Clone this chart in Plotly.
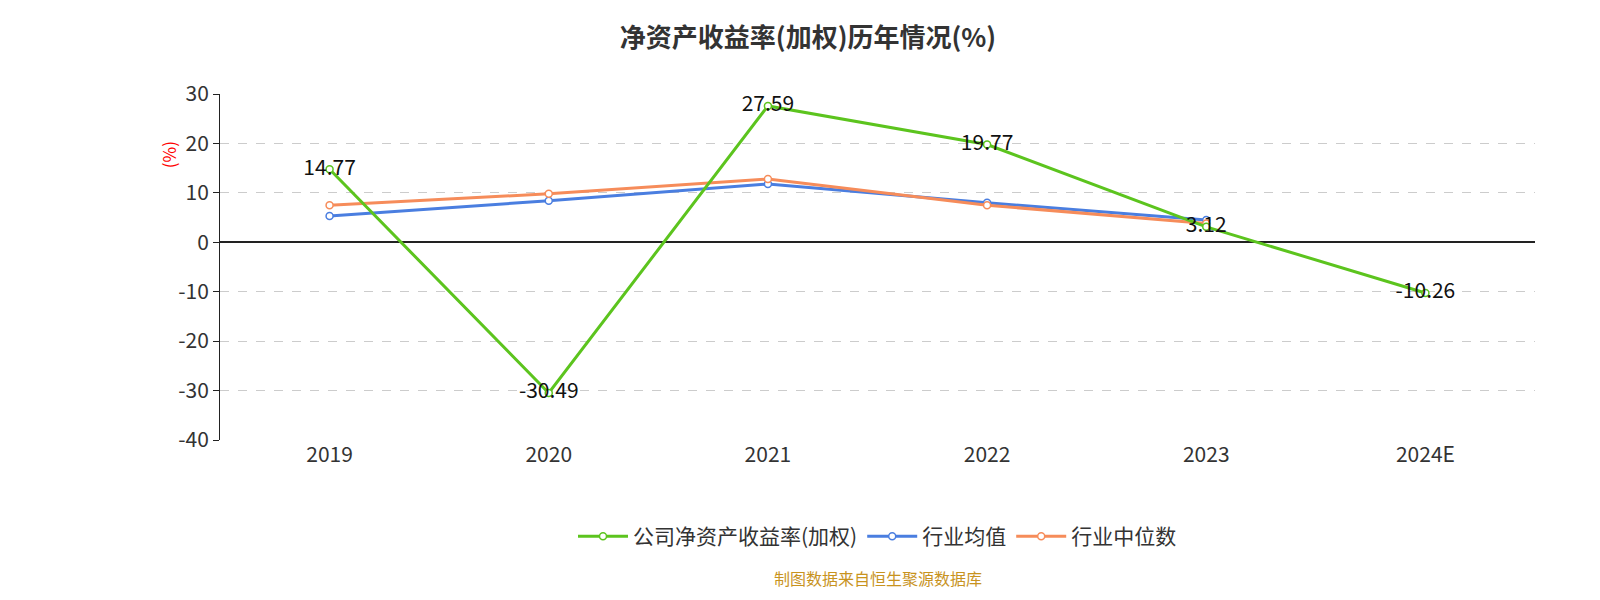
import plotly.graph_objs as go

years = ["2019", "2020", "2021", "2022", "2023", "2024E"]
company = [14.77, -30.49, 27.59, 19.77, 3.12, -10.26]
ind_mean = [5.3, 8.4, 11.8, 8.0, 4.5]
ind_median = [7.5, 9.8, 12.8, 7.5, 3.8]
ticks = [30, 20, 10, 0, -10, -20, -30, -40]

fig = go.Figure()

fig.add_trace(go.Scatter(x=years[:5], y=ind_mean, name="行业均值", mode="lines+markers",
                         legendrank=2,
                         line=dict(color="#4a7ee0", width=3),
                         marker=dict(size=7, color="white", line=dict(color="#4a7ee0", width=1.5))))
fig.add_trace(go.Scatter(x=years[:5], y=ind_median, name="行业中位数", mode="lines+markers",
                         legendrank=3,
                         line=dict(color="#f68c5a", width=3),
                         marker=dict(size=7, color="white", line=dict(color="#f68c5a", width=1.5))))
fig.add_trace(go.Scatter(x=years, y=company, name="公司净资产收益率(加权)", mode="lines+markers+text",
                         legendrank=1,
                         text=[f"{v:.2f}" for v in company], textposition="middle center",
                         textfont=dict(size=21, color="#111"),
                         line=dict(color="#5cc41e", width=3),
                         marker=dict(size=7, color="white", line=dict(color="#5cc41e", width=1.5))))

fig.update_layout(
    width=1600, height=600,
    paper_bgcolor="white", plot_bgcolor="white",
    font=dict(family="Noto Sans CJK SC", color="#333"),
    title=dict(text="<b>净资产收益率(加权)历年情况(%)</b>", x=0.5, y=0.965,
               font=dict(size=26, color="#333")),
    margin=dict(l=212, r=73, t=86, b=168),
    legend=dict(orientation="h", x=0.5, xanchor="center", y=-0.22, yanchor="top",
                font=dict(size=21), itemwidth=50),
    xaxis=dict(type="category", tickfont=dict(size=21), showgrid=False,
               showline=False, ticks="", range=[-0.5, 5.5]),
    yaxis=dict(range=[-40, 30], tickvals=ticks, ticktext=[str(t) for t in ticks],
               tickfont=dict(size=21),
               showgrid=True, gridcolor="#ccc", griddash="dash",
               zeroline=True, zerolinecolor="#222", zerolinewidth=1.5,
               showline=True, linecolor="#222", ticks="outside", ticklen=6, tickcolor="#222"),
    annotations=[
        dict(text="(%)", xref="paper", yref="paper", x=-0.05, y=0.87, showarrow=False,
             textangle=-90, font=dict(size=17, color="red")),
        dict(text="制图数据来自恒生聚源数据库", xref="paper", yref="paper", x=0.5, y=-0.44,
             showarrow=False, font=dict(size=16, color="#c8931e")),
    ],
)

fig.write_html("out.html")
